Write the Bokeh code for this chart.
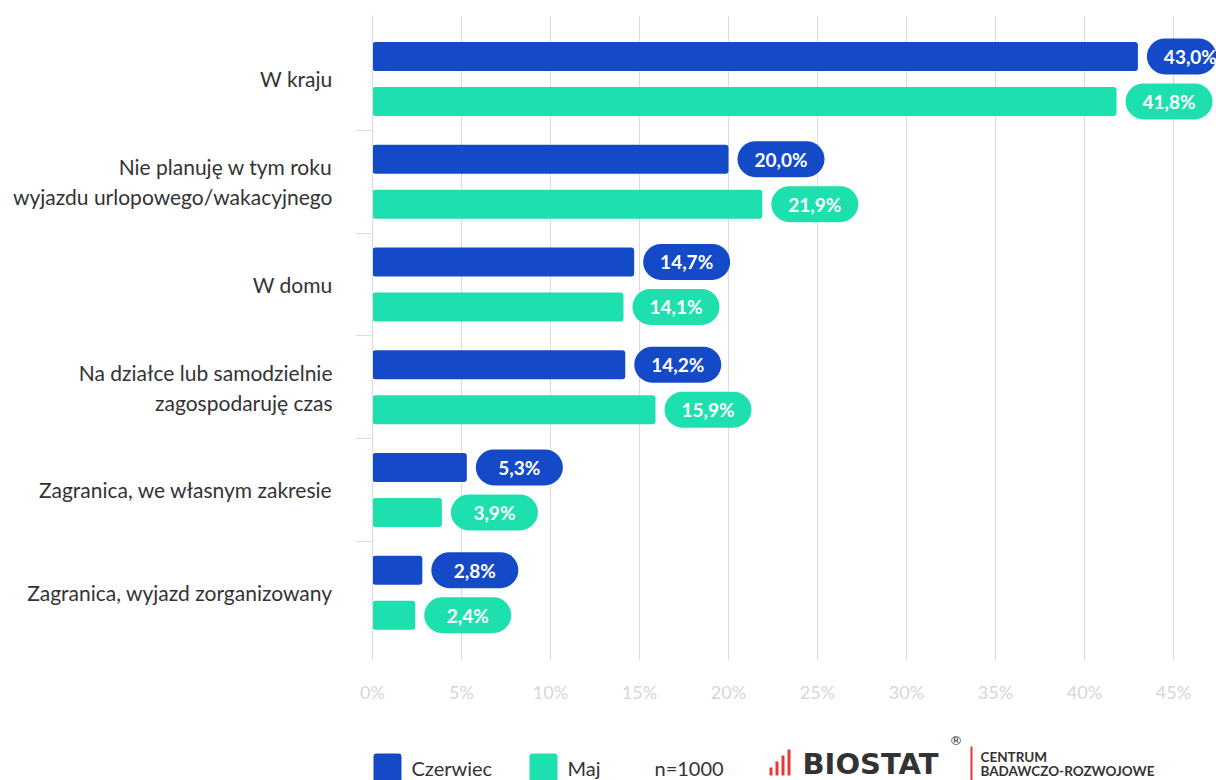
from bokeh.plotting import figure
from bokeh.layouts import column
from bokeh.models import Range1d, FixedTicker, ColumnDataSource
from bokeh.core.properties import value
from bokeh.embed import file_html
from bokeh.resources import INLINE

# ---------------- data ----------------
categories = [
    "W kraju",
    "Nie planuję w tym roku\nwyjazdu urlopowego/wakacyjnego",
    "W domu",
    "Na działce lub samodzielnie\nzagospodaruję czas",
    "Zagranica, we własnym zakresie",
    "Zagranica, wyjazd zorganizowany",
]
czerwiec = [43.0, 20.0, 14.7, 14.2, 5.3, 2.8]
maj = [41.8, 21.9, 14.1, 15.9, 3.9, 2.4]
series_names = ["Czerwiec", "Maj"]
x_ticks = [0, 5, 10, 15, 20, 25, 30, 35, 40, 45]
n_label = "n=1000"

BLUE = "#1449c8"
GREEN = "#1ee0ae"
GRID = "#dcdcdc"
TXT = "#333333"
FONT = "Lato"

W, H_MAIN, H_LEG = 1216, 720, 60
LEFT, TOP, BOTTOM = 372, 15, 60
frame_w = W - LEFT
XMAX = frame_w / 17.8
frame_h = H_MAIN - TOP - BOTTOM
ncat = len(categories)
cat_px = 102.75
units = frame_h / cat_px
y_end = ncat + 12 / cat_px
y_start = y_end - units
PX = XMAX / frame_w          # data units per pixel (x)
PY = 1 / cat_px              # data units per pixel (y)

centers = [ncat - 0.5 - i for i in range(ncat)]
off = 22.5 * PY
bar_h = 29 * PY
pill_h = 36 * PY
gap = 9 * PX
pill_w = 87 * PX

def fmt(v):
    return f"{v:.1f}".replace(".", ",") + "%"

rows = []
for vals, sgn, col in ((czerwiec, 1, BLUE), (maj, -1, GREEN)):
    for c, v in zip(centers, vals):
        rows.append((c + sgn * off, v, col))

src = ColumnDataSource(dict(
    y=[r[0] for r in rows],
    v=[r[1] for r in rows],
    color=[r[2] for r in rows],
    pl=[r[1] + gap for r in rows],
    pr=[r[1] + gap + pill_w for r in rows],
    pc=[r[1] + gap + pill_w / 2 for r in rows],
    lab=[fmt(r[1]) for r in rows],
))

p = figure(width=W, height=H_MAIN, x_range=Range1d(0, XMAX), y_range=Range1d(y_start, y_end),
           output_backend="svg", toolbar_location=None,
           min_border_left=LEFT, min_border_right=0, min_border_top=TOP, min_border_bottom=BOTTOM)
p.outline_line_color = None
p.background_fill_color = "white"
p.border_fill_color = "white"

p.hbar(y="y", left=0, right="v", height=bar_h, fill_color="color", line_color=None,
       border_radius=3, source=src)
p.hbar(y="y", left="pl", right="pr", height=pill_h, fill_color="color", line_color=None,
       border_radius=18, source=src)
p.text(x="pc", y="y", text="lab", text_color="white", text_font=value(FONT),
       text_font_style="bold", text_font_size="19px", text_align="center",
       text_baseline="middle", source=src)

# x axis
p.xaxis.ticker = FixedTicker(ticks=x_ticks)
p.xaxis.major_label_overrides = {t: f"{t}%" for t in x_ticks}
p.xaxis.axis_line_color = None
p.xaxis.major_tick_line_color = None
p.xaxis.minor_tick_line_color = None
p.xaxis.major_label_text_color = "#d6d6d6"
p.xaxis.major_label_text_font = FONT
p.xaxis.major_label_text_font_size = "18px"
p.xaxis.major_label_standoff = 14
p.xgrid.ticker = FixedTicker(ticks=x_ticks)
p.xgrid.grid_line_color = GRID
p.ygrid.grid_line_color = None

# y axis
p.yaxis.ticker = FixedTicker(ticks=centers, minor_ticks=[float(k) for k in range(1, ncat)])
p.yaxis.major_label_overrides = {c: lab for c, lab in zip(centers, categories)}
p.yaxis.axis_line_color = GRID
p.yaxis.major_tick_line_color = None
p.yaxis.major_tick_out = 0
p.yaxis.major_tick_in = 0
p.yaxis.minor_tick_line_color = GRID
p.yaxis.minor_tick_out = 17
p.yaxis.minor_tick_in = 0
p.yaxis.major_label_text_color = TXT
p.yaxis.major_label_text_font = FONT
p.yaxis.major_label_text_font_size = "21px"
p.yaxis.major_label_standoff = 23

# ---------------- legend / footer ----------------
# the footer's frame is aligned with the main frame (LEFT .. W), coordinates in pixels
q = figure(width=W, height=H_LEG, x_range=Range1d(LEFT, W), y_range=Range1d(H_LEG, 0),
           output_backend="svg", toolbar_location=None,
           min_border_left=LEFT, min_border_right=0, min_border_top=0, min_border_bottom=0)
q.axis.visible = False
q.grid.visible = False
q.outline_line_color = None

leg_x = [373, 529]
q.quad(left=leg_x, right=[x + 28 for x in leg_x], top=[33, 33], bottom=[62, 62],
       fill_color=[BLUE, GREEN], line_color=None, border_radius=3)
q.text(x=[x + 38 for x in leg_x] + [654], y=[47, 47, 47], text=series_names + [n_label],
       text_color=TXT, text_font=value(FONT), text_font_size="20px",
       text_baseline="middle", text_align="left")

# logo
icon_l = [769, 775, 781, 787]
icon_t = [47, 41, 35, 29]
q.quad(left=icon_l, right=[x + 3 for x in icon_l], top=icon_t, bottom=[55] * 4,
       fill_color="#e53935", line_color=None)
q.text(x=[802], y=[43], text=["BIOSTAT"], text_color=TXT, text_font=value("DejaVu Sans"),
       text_font_style="bold", text_font_size="29px", text_baseline="middle")
q.text(x=[949], y=[20], text=["®"], text_color=TXT, text_font=value("DejaVu Sans"),
       text_font_size="13px", text_baseline="middle")
q.segment(x0=[971], y0=[26], x1=[971], y1=[60], line_color="#e53935", line_width=2)
q.text(x=[980, 980], y=[36, 50], text=["CENTRUM", "BADAWCZO-ROZWOJOWE"], text_color=TXT,
       text_font=value(FONT), text_font_style="bold", text_font_size="13.5px",
       text_baseline="middle")

layout = column(p, q, spacing=0)
open("out.html", "w").write(file_html(layout, INLINE))
